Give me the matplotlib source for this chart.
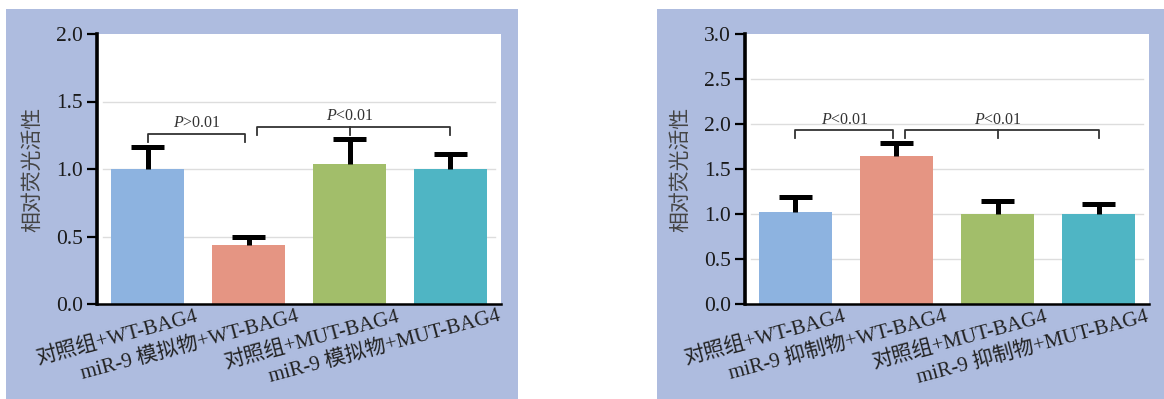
import matplotlib
matplotlib.use("Agg")
import matplotlib.pyplot as plt
from matplotlib.patches import Rectangle
from matplotlib.transforms import ScaledTranslation

plt.rcParams['font.family'] = ['Liberation Serif', 'Noto Sans CJK SC', 'DejaVu Sans']
plt.rcParams['mathtext.fontset'] = 'custom'
plt.rcParams['mathtext.it'] = 'Liberation Serif:italic'
plt.rcParams['mathtext.rm'] = 'Liberation Serif'

# 左图: miR-9 模拟物
labels_a = ["对照组+WT-BAG4", "miR-9 模拟物+WT-BAG4", "对照组+MUT-BAG4", "miR-9 模拟物+MUT-BAG4"]
means_a = [1.0, 0.44, 1.035, 1.0]
errs_a = [0.165, 0.055, 0.185, 0.11]

# 右图: miR-9 抑制物
labels_b = ["对照组+WT-BAG4", "miR-9 抑制物+WT-BAG4", "对照组+MUT-BAG4", "miR-9 抑制物+MUT-BAG4"]
means_b = [1.02, 1.64, 1.0, 1.0]
errs_b = [0.17, 0.15, 0.145, 0.11]

colors = ["#8db3e0", "#e59583", "#a2be6a", "#4fb5c4"]
panel_color = "#aebcdf"

fig = plt.figure(figsize=(11.64, 3.99), dpi=100)
W, H = 1164, 399

# 背景面板
fig.patches.append(Rectangle((6 / W, 0), 512 / W, 390 / H, transform=fig.transFigure,
                             facecolor=panel_color, edgecolor="none", zorder=-10))
fig.patches.append(Rectangle((657 / W, 0), 507 / W, 390 / H, transform=fig.transFigure,
                             facecolor=panel_color, edgecolor="none", zorder=-10))


def draw_panel(ax, labels, means, errs, ymax, grid, brackets):
    x = list(range(len(means)))
    tops = [m + e for m, e in zip(means, errs)]
    ax.set_facecolor("white")
    for g in grid:
        ax.axhline(g, xmin=0.015, xmax=0.985, color="#dddddd", lw=1.0, zorder=0)
    ax.bar(x, means, width=0.72, color=colors, zorder=2)
    # 只画上方误差线
    ax.vlines(x, means, tops, color="black", lw=3.6, zorder=3)
    ax.hlines(tops, [i - 0.165 for i in x], [i + 0.165 for i in x], color="black",
              lw=3.6, zorder=3)
    ax.set_xlim(-0.5, 3.5)
    ax.set_ylim(0, ymax)
    ax.set_yticks([i * 0.5 for i in range(int(ymax / 0.5) + 1)])
    ax.set_yticklabels([f"{i * 0.5:.1f}" for i in range(int(ymax / 0.5) + 1)],
                       fontsize=15.5, color="#1a1a1a")
    ax.spines["top"].set_visible(False)
    ax.spines["right"].set_visible(False)
    ax.spines["left"].set_linewidth(2.6)
    ax.spines["bottom"].set_linewidth(1.8)
    ax.tick_params(axis="y", length=7, width=1.6, pad=3)
    ax.tick_params(axis="x", length=0, pad=2)
    ax.set_ylabel("相对荧光活性", fontsize=15, color="#444444", labelpad=9)
    ax.set_xticks(x)
    ax.set_xticklabels(labels, rotation=15, ha="right", rotation_mode="anchor",
                       fontsize=15, color="#222222")
    for lbl in ax.get_xticklabels():
        lbl.set_transform(lbl.get_transform() + ScaledTranslation(0.47, 0, fig.dpi_scale_trans))

    # 显著性标注
    for x0, x1, y, drop, mid, txt in brackets:
        ax.plot([x0, x0, x1, x1], [y - drop, y, y, y - drop], color="#333333", lw=1.3, zorder=4)
        if mid is not None:
            ax.plot([mid, mid], [y, y - drop], color="#333333", lw=1.3, zorder=4)
            tx = mid
        else:
            tx = (x0 + x1) / 2
        ax.text(tx, y + drop * 0.35, txt, ha="center", va="bottom", fontsize=11.5,
                color="#333333")


ax1 = fig.add_axes([97 / W, 1 - 304 / H, 404 / W, 270 / H])
draw_panel(ax1, labels_a, means_a, errs_a, 2.0, [0.5, 1.0, 1.5],
           [(0, 0.97, 1.26, 0.06, None, r"$\mathit{P}$>0.01"),
            (1.08, 3.0, 1.31, 0.06, 2.0, r"$\mathit{P}$<0.01")])

ax2 = fig.add_axes([745 / W, 1 - 304 / H, 404 / W, 270 / H])
draw_panel(ax2, labels_b, means_b, errs_b, 3.0, [0.5, 1.0, 1.5, 2.0, 2.5],
           [(0, 0.97, 1.93, 0.08, None, r"$\mathit{P}$<0.01"),
            (1.08, 3.0, 1.93, 0.08, 2.0, r"$\mathit{P}$<0.01")])

fig.savefig("out.png", dpi=100, facecolor="white")
